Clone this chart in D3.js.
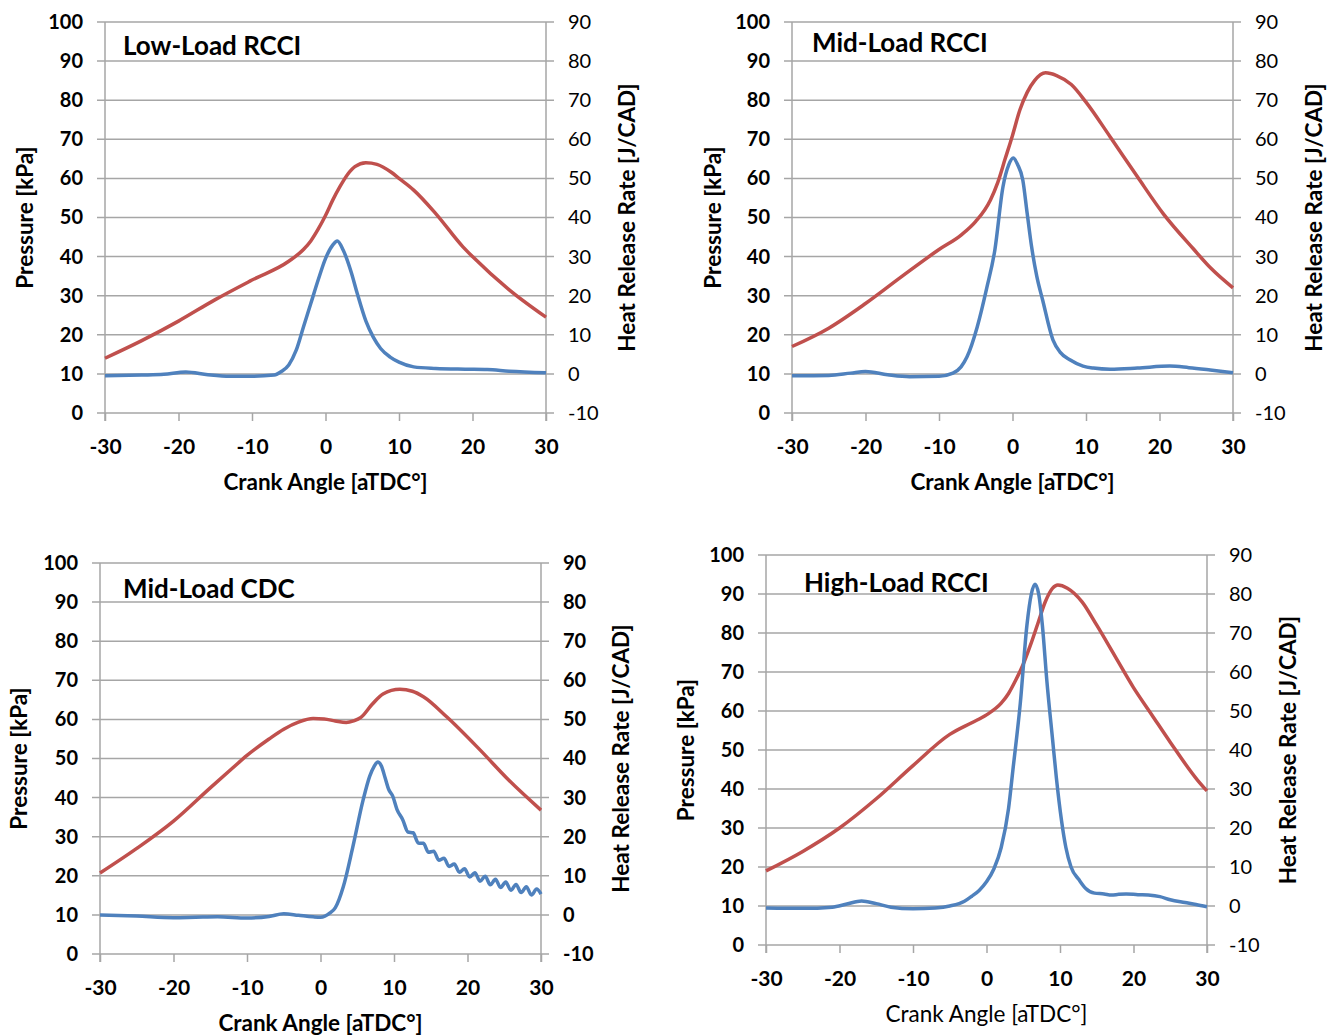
<!DOCTYPE html>
<html>
<head>
<meta charset="utf-8">
<script src="https://cdn.jsdelivr.net/npm/d3@7"></script>
<style>
  body { margin: 0; background: #fff; }
  text { font-family: Lato, "Open Sans", sans-serif; fill: #000; }
</style>
</head>
<body>
<svg id="chart" width="1339" height="1036"></svg>
<script>
// tick labels shared by all four panels
const angleTicks = [-30, -20, -10, 0, 10, 20, 30];
const pressureTicks = [0, 10, 20, 30, 40, 50, 60, 70, 80, 90, 100];
const hrrTicks = [-10, 0, 10, 20, 30, 40, 50, 60, 70, 80, 90];

// Low-Load RCCI
const lowAngleP = [-30, -25, -20, -15, -10, -5, -3, -2, -1, 0, 1, 2, 3, 4, 5.5, 7, 9, 10, 12, 15, 18.7, 20, 25, 30];
const lowPressure = [14, 18.5, 23.5, 29, 34, 38.8, 41.8, 44, 47, 50.5, 54.5, 58, 61, 63, 64, 63.6, 61.5, 60, 57, 51, 42.5, 40, 31.5, 24.5];
const lowAngleH = [-30, -25, -22, -19, -16, -13, -10, -7, -6, -5, -4, -3, -2, -1, 0, 1, 1.6, 2.4, 3.5, 4.3, 5.5, 6.5, 7.5, 8.8, 10, 12, 15, 19, 22, 25, 30];
const lowHrr = [-0.5, -0.3, -0.1, 0.5, -0.2, -0.6, -0.6, -0.3, 0.6, 2.3, 6, 12, 18, 24, 29.5, 33, 34, 31.7, 26, 20.7, 13.5, 9.4, 6.5, 4.3, 3, 1.8, 1.4, 1.2, 1.1, 0.7, 0.3];

// Mid-Load RCCI
const midAngleP = [-30, -25, -20, -15, -10, -7, -5, -3, -2, -1, 0, 1, 2, 3, 4.5, 6, 8, 10, 13.3, 17, 20.5, 24.6, 27, 30];
const midPressure = [17, 21.7, 28, 35, 41.8, 45.5, 49, 54.5, 59, 65, 71, 77.5, 82, 85, 87, 86.3, 84, 79.5, 70.6, 60.4, 51, 42, 37, 32];
const midAngleH = [-30, -25, -22, -20, -17, -14, -10, -8.1, -7, -6.2, -4.8, -3.5, -2.4, -1.3, -0.5, 0.1, 0.7, 1.4, 2, 2.6, 3.3, 4.1, 5.5, 6.5, 7.8, 9.6, 11, 13.3, 17, 21.4, 24, 26.9, 30];
const midHrr = [-0.5, -0.4, 0.2, 0.6, -0.2, -0.7, -0.6, 0.2, 1.8, 4.3, 12, 22, 31.7, 47.8, 53.5, 55.2, 53.5, 49.6, 41, 32.5, 25, 18.9, 8.7, 5.5, 3.6, 2, 1.5, 1.2, 1.5, 2, 1.6, 1, 0.3];

// Mid-Load CDC
const cdcAngleP = [-30, -25, -20, -15, -12, -10, -7, -5, -3, -1, 0.5, 2, 3.5, 4.5, 5.5, 7, 8.5, 10.8, 12.5, 14, 17.2, 21.7, 25.6, 30];
const cdcPressure = [20.7, 27, 34, 42.5, 47.5, 50.8, 55, 57.5, 59.3, 60.2, 60.1, 59.6, 59.2, 59.6, 60.5, 63.8, 66.5, 67.7, 67.2, 65.8, 60.6, 52.2, 44.5, 36.8];
const cdcAngleH = [-30, -25, -20, -17, -14, -10, -7, -5, -3, -1, 0, 1.3, 2, 3.1, 4.4, 5.8, 6.7, 7.3, 7.8, 8.3, 8.8, 9.3, 9.8, 10.4,
  11.2, 11.9, 12.6, 13.3, 14, 14.7, 15.4, 16.1, 16.8, 17.5, 18.2, 18.9, 19.6, 20.3, 21, 21.7, 22.4, 23.1, 23.8, 24.5, 25.2, 25.9, 26.6, 27.3, 28, 28.7, 29.4, 30];
const cdcHrr = [0, -0.3, -0.7, -0.6, -0.5, -0.8, -0.4, 0.3, -0.1, -0.5, -0.6, 0.5, 1.8, 7.2, 17.4, 29.4, 35.5, 38, 39.1, 38, 35, 32, 30.5, 27,
  24.3, 21.2, 21, 18.4, 18.3, 16, 16.3, 14, 14.5, 12.4, 13, 10.9, 11.8, 9.7, 10.8, 8.6, 9.9, 7.7, 9.1, 7, 8.4, 6.3, 7.8, 5.7, 7.2, 5.1, 6.6, 5.3];

// High-Load RCCI
const highAngleP = [-30, -25, -20, -15, -10, -5, -2, 0, 2, 3, 4, 5, 6, 7, 8, 9, 9.7, 11, 13, 15, 17.5, 20, 22.5, 25, 28.7, 30];
const highPressure = [19, 24, 30, 37.5, 46, 54, 57, 59, 62, 64.5, 68, 72, 77, 82.5, 88, 91.5, 92.3, 91.5, 88, 82, 74, 66, 59, 52, 42.3, 39.5];
const highAngleH = [-30, -25, -21, -19, -17, -15, -13, -10, -7, -5, -3, -2, -1, 0, 1, 2, 3, 3.6, 4.6, 5.5, 6.1, 6.6, 7.1, 7.6, 8.2, 9, 9.5, 10.2, 10.8, 11.5, 12.6, 13.5, 14.7, 16, 17, 18, 19, 20.6, 22, 23.6, 25, 27, 28.5, 30];
const highHrr = [-0.5, -0.6, -0.3, 0.5, 1.3, 0.6, -0.3, -0.7, -0.5, 0, 1.2, 2.5, 4, 6.2, 9.5, 15, 25, 35, 52, 72, 80, 82.5, 80, 72, 58, 42.5, 33, 22, 15, 10, 6.7, 4.5, 3.3, 3.1, 2.8, 3, 3.1, 2.9, 2.8, 2.4, 1.6, 0.9, 0.4, -0.2];

const RED = '#C0504D';
const BLUE = '#4F81BD';
const GRID = '#a6a6a6';

const svg = d3.select('#chart');

function drawPanel(p) {
    const x = d3.scaleLinear().domain([-30, 30]).range([p.left, p.right]);
    const yP = d3.scaleLinear().domain([0, 100]).range([p.bottom, p.top]);
    const yH = d3.scaleLinear().domain([-10, 90]).range([p.bottom, p.top]);
    const g = svg.append('g');
    const plain = d => String(d);   // keep a hyphen for negatives, like the original

    // horizontal grid, runs through both tick marks
    g.append('g').selectAll('line').data(pressureTicks).enter().append('line')
        .attr('x1', p.left - 8).attr('x2', p.right + 8)
        .attr('y1', d => yP(d)).attr('y2', d => yP(d))
        .attr('stroke', GRID).attr('stroke-width', 1.5);

    // both vertical axis lines
    [p.left, p.right].forEach(ax => {
        g.append('line').attr('x1', ax).attr('x2', ax)
            .attr('y1', p.top).attr('y2', p.bottom + 8)
            .attr('stroke', GRID).attr('stroke-width', 1.5);
    });

    const left = g.append('g').attr('transform', `translate(${p.left},0)`)
        .call(d3.axisLeft(yP).tickValues(pressureTicks).tickFormat(plain).tickSize(0).tickPadding(22));
    const right = g.append('g').attr('transform', `translate(${p.right},0)`)
        .call(d3.axisRight(yH).tickValues(hrrTicks).tickFormat(plain).tickSize(0).tickPadding(22));
    const bottom = g.append('g').attr('transform', `translate(0,${p.bottom})`)
        .call(d3.axisBottom(x).tickValues(angleTicks).tickFormat(plain).tickSize(8).tickPadding(18));

    [left, right, bottom].forEach(a => {
        a.select('.domain').remove();
        a.selectAll('line').attr('stroke', GRID).attr('stroke-width', 1.5);
        a.selectAll('text').style('font-family', 'Lato, sans-serif').style('font-size', '20px').attr('fill', '#000');
    });
    left.selectAll('text').style('font-weight', 'bold');
    bottom.selectAll('text').style('font-weight', 'bold').style('font-size', '21px');
    right.selectAll('text').style('font-weight', p.rightBold ? 'bold' : 'normal');

    // series
    const line = (xs, ys, yScale) => d3.line()
        .x((d, i) => x(xs[i])).y((d, i) => yScale(ys[i]))
        .curve(d3.curveMonotoneX)(xs);

    g.append('path').attr('d', line(p.angP, p.pres, yP))
        .attr('fill', 'none').attr('stroke', RED).attr('stroke-width', 3.5);
    g.append('path').attr('d', line(p.angH, p.hrr, yH))
        .attr('fill', 'none').attr('stroke', BLUE).attr('stroke-width', 3.5);

    // titles
    g.append('text').attr('x', p.titleX).attr('y', p.titleY)
        .style('font-size', '26px').style('font-weight', 'bold').text(p.title);

    g.append('text').attr('x', (p.left + p.right) / 2).attr('y', p.bottom + 77)
        .attr('text-anchor', 'middle')
        .style('font-size', '22.5px').style('font-weight', p.xTitleWeight).text('Crank Angle [aTDC°]');

    const cy = (p.top + p.bottom) / 2;
    g.append('text').attr('transform', `translate(${p.yTitleX},${cy}) rotate(-90)`)
        .attr('text-anchor', 'middle').attr('dominant-baseline', 'central')
        .style('font-size', '22.5px').style('font-weight', 'bold').text('Pressure [kPa]');
    g.append('text').attr('transform', `translate(${p.rTitleX},${cy}) rotate(-90)`)
        .attr('text-anchor', 'middle').attr('dominant-baseline', 'central')
        .style('font-size', '22.5px').style('font-weight', 'bold').text('Heat Release Rate [J/CAD]');
}

drawPanel({ left: 105, right: 546, top: 22, bottom: 413, title: 'Low-Load RCCI', titleX: 123, titleY: 55,
    yTitleX: 24, rTitleX: 626, rightBold: false, xTitleWeight: 'bold',
    angP: lowAngleP, pres: lowPressure, angH: lowAngleH, hrr: lowHrr });
drawPanel({ left: 792, right: 1233, top: 22, bottom: 413, title: 'Mid-Load RCCI', titleX: 812, titleY: 52,
    yTitleX: 712, rTitleX: 1313, rightBold: false, xTitleWeight: 'bold',
    angP: midAngleP, pres: midPressure, angH: midAngleH, hrr: midHrr });
drawPanel({ left: 100, right: 541, top: 563, bottom: 954, title: 'Mid-Load CDC', titleX: 123, titleY: 598,
    yTitleX: 18, rTitleX: 620, rightBold: true, xTitleWeight: 'bold',
    angP: cdcAngleP, pres: cdcPressure, angH: cdcAngleH, hrr: cdcHrr });
drawPanel({ left: 766, right: 1207, top: 555, bottom: 945, title: 'High-Load RCCI', titleX: 804, titleY: 592,
    yTitleX: 685, rTitleX: 1287, rightBold: false, xTitleWeight: 'normal',
    angP: highAngleP, pres: highPressure, angH: highAngleH, hrr: highHrr });
</script>
</body>
</html>
